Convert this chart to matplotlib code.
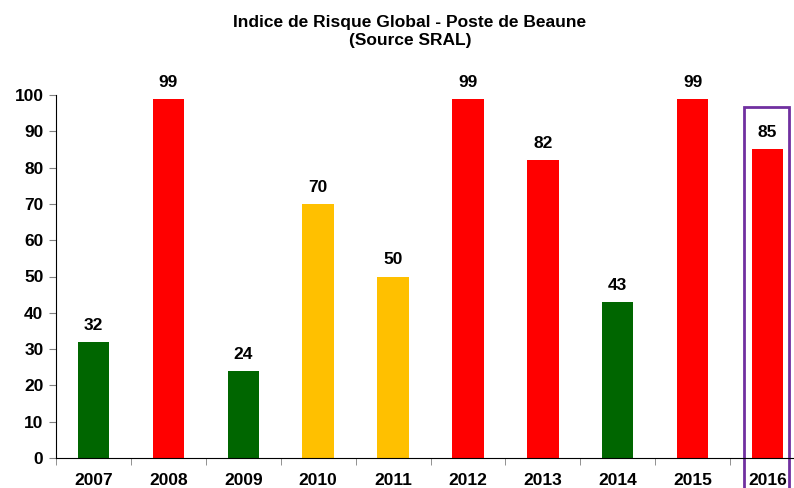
import matplotlib
matplotlib.use("Agg")
import matplotlib.pyplot as plt
import matplotlib.patches as patches

years = ["2007", "2008", "2009", "2010", "2011", "2012", "2013", "2014", "2015", "2016"]
values = [32, 99, 24, 70, 50, 99, 82, 43, 99, 85]
levels = ["low", "high", "low", "mid", "mid", "high", "high", "low", "high", "high"]

COLORS = {"low": "#006600", "mid": "#FFC000", "high": "#FF0000"}
PURPLE = "#7030A0"
FS = 12.5

plt.rcParams["font.family"] = ["Liberation Sans", "DejaVu Sans"]

W, H = 794, 488
fig = plt.figure(figsize=(W / 100, H / 100), dpi=100)
cat_w = 74.9
ax = fig.add_axes([56 / W, 30 / H, 10 * cat_w / W, 363 / H])

x = list(range(len(years)))
ax.bar(x, values, width=0.42, color=[COLORS[l] for l in levels])
for xi, v in zip(x, values):
    ax.text(xi, v + 2.5, str(v), ha="center", va="bottom", fontsize=FS, fontweight="bold")

ax.set_xlim(-0.5, len(years) - 0.5)
ax.set_ylim(0, 100)
ax.set_yticks(range(0, 101, 10))
ax.set_yticklabels([str(t) for t in range(0, 101, 10)], fontsize=FS, fontweight="bold")
ax.set_xticks(x)
ax.set_xticklabels(years, fontsize=FS, fontweight="bold")
ax.set_xticks([i - 0.5 for i in range(len(years) + 1)], minor=True)
ax.tick_params(axis="x", which="major", length=0, pad=11)
ax.tick_params(axis="x", which="minor", length=5, color="#808080", direction="out")
ax.tick_params(axis="y", length=5, color="#808080", direction="out", pad=4)

for s in ["top", "right"]:
    ax.spines[s].set_visible(False)
ax.spines["left"].set_color("black")
ax.spines["bottom"].set_color("black")

# highlight the last year
last = len(years) - 1
rect = patches.Rectangle((last - 0.32, -12), 0.61, 96.7 + 12, fill=False,
                         ec=PURPLE, lw=2, clip_on=False)
ax.add_patch(rect)

fig.text(410 / W, 1 - 31 / H, "Indice de Risque Global - Poste de Beaune\n(Source SRAL)",
         ha="center", va="center", fontsize=FS, fontweight="bold", linespacing=1.25)

fig.savefig("out.png", dpi=100)
